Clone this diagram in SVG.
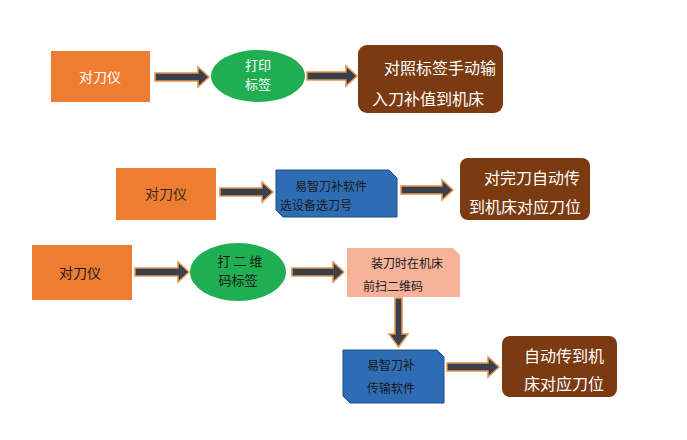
<svg xmlns="http://www.w3.org/2000/svg" width="687" height="440" viewBox="0 0 687 440">
<defs>
<style>
.or{fill:#ee7d32}
.br{fill:#7b3a10}
.gr{fill:#1fae52}
.bl{fill:#2e6db4;stroke:#1f4f88;stroke-width:1}
.pk{fill:#f7b39a}
.ar{fill:#37404c;stroke:#e6944e;stroke-width:1.5}
text{font-family:"Noto Sans CJK SC","Noto Sans",sans-serif;font-size:14px;text-anchor:middle}
.w{fill:#fff}
.b{font-size:16px}
.k{fill:#1a1a1a;font-size:12px}
</style>
</defs>
<rect width="687" height="440" fill="#fff"/>
<g id="connectors">
<polygon class="ar" points="155,73 198,73 198,67 209,77 198,87 198,81 155,81"/>
<polygon class="ar" points="307,72 346,72 346,66 357,76 346,86 346,80 307,80"/>
<polygon class="ar" points="220,188 262,188 262,182 273,192 262,202 262,196 220,196"/>
<polygon class="ar" points="401,186 442,186 442,180 453,190 442,200 442,194 401,194"/>
<polygon class="ar" points="135,268 178,268 178,262 189,272 178,282 178,276 135,276"/>
<polygon class="ar" points="292,268 333,268 333,262 344,272 333,282 333,276 292,276"/>
<polygon class="ar" points="395,298 402,298 402,334 408,334 398.5,347 389,334 395,334"/>
<polygon class="ar" points="447,363 488,363 488,357 499,367 488,377 488,371 447,371"/>
</g>
<g id="n1"><rect class="or" x="51" y="51" width="99" height="51"/><text class="w" x="100" y="82">对刀仪</text></g>
<g id="n2"><ellipse class="gr" cx="258" cy="76" rx="47" ry="26"/><text class="w" x="258" y="70" style="font-size:13px">打印</text><text class="w" x="258" y="89" style="font-size:13px">标签</text></g>
<g id="n3"><rect class="br" x="358" y="45" width="145" height="68" rx="9"/><text class="w b" x="440" y="74">对照标签手动输</text><text class="w b" x="428" y="105">入刀补值到机床</text></g>
<g id="n4"><rect class="or" x="116" y="168" width="100" height="52"/><text class="w" x="166" y="199" style="fill:#3a2a1a">对刀仪</text></g>
<g id="n5"><polygon class="bl" points="276,170 389,170 397,178 397,217 283,217 276,210"/><text class="k" x="331" y="191">易智刀补软件</text><text class="k" x="316" y="210">选设备选刀号</text></g>
<g id="n6"><rect class="br" x="460" y="158" width="130" height="62" rx="8"/><text class="w b" x="532" y="184">对完刀自动传</text><text class="w b" x="525" y="213">到机床对应刀位</text></g>
<g id="n7"><rect class="or" x="32" y="245" width="100" height="55"/><text class="k" x="80" y="278" style="font-size:14px">对刀仪</text></g>
<g id="n8"><ellipse class="gr" cx="238" cy="272" rx="48" ry="29"/><text class="k" x="240" y="266" style="font-size:13px">打 二 维</text><text class="k" x="238" y="285" style="font-size:13px">码标签</text></g>
<g id="n9"><polygon class="pk" points="347,248 453,248 460,255 460,297 347,297"/><text class="k" x="407" y="268">装刀时在机床</text><text class="k" x="393" y="291">前扫二维码</text></g>
<g id="n10"><polygon class="bl" points="343,350 437,350 444,357 444,403 350,403 343,396"/><text class="k" x="391" y="370">易智刀补</text><text class="k" x="391" y="393">传输软件</text></g>
<g id="n11"><rect class="br" x="502" y="336" width="115" height="61" rx="8"/><text class="w b" x="564" y="362">自动传到机</text><text class="w b" x="564" y="390">床对应刀位</text></g>
</svg>
